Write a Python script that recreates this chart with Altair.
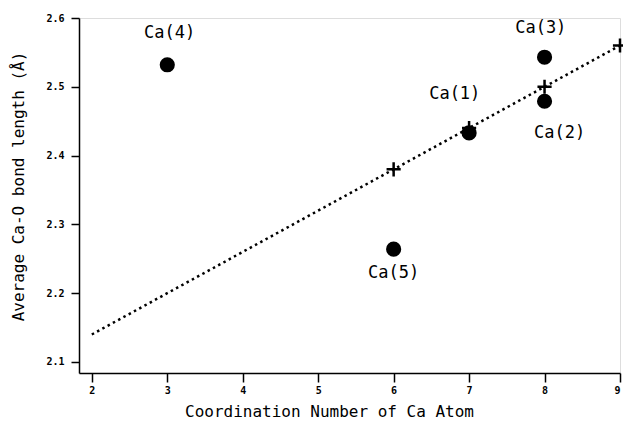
import altair as alt
import pandas as pd

# Observed atoms
atom_names = ["Ca(1)", "Ca(2)", "Ca(3)", "Ca(4)", "Ca(5)"]
atom_cn = [7, 8, 8, 3, 6]
atom_bond = [2.433, 2.479, 2.543, 2.532, 2.264]

# Label anchor positions (data space)
label_cn = [6.81, 8.20, 7.95, 3.03, 6.0]
label_bond = [2.4895, 2.433, 2.5855, 2.578, 2.229]

# Expected values (plus markers)
exp_cn = [6, 7, 8, 9]
exp_bond = [2.38, 2.44, 2.50, 2.56]

# Fitted dotted line
fit_cn = [2, 9]
fit_bond = [2.14, 2.56]

x_ticks = [2, 3, 4, 5, 6, 7, 8, 9]
y_ticks = [2.1, 2.2, 2.3, 2.4, 2.5, 2.6]

atoms = pd.DataFrame({"cn": atom_cn, "bond": atom_bond})
labels = pd.DataFrame({"name": atom_names, "cn": label_cn, "bond": label_bond})
expected = pd.DataFrame({"cn": exp_cn, "bond": exp_bond})
fit = pd.DataFrame({"cn": fit_cn, "bond": fit_bond})

FONT = "DejaVu Sans Mono"

xscale = alt.Scale(domain=[1.83, 9], nice=False, zero=False)
yscale = alt.Scale(domain=[2.084, 2.6], nice=False, zero=False)

xaxis = alt.Axis(
    title="Coordination Number of Ca Atom",
    values=x_ticks, format="d", grid=False,
    domainColor="black", domainWidth=1.5, tickColor="black", tickWidth=1.5, tickSize=9,
    labelFont=FONT, labelFontSize=10, labelFontWeight="bold", labelColor="black", labelPadding=3,
    titleFont=FONT, titleFontSize=16, titleFontWeight="normal", titleColor="black",
    titleX=250, titleY=38, titleBaseline="middle", titleAlign="center",
)
yaxis = alt.Axis(
    title="Average Ca-O bond length (Å)",
    values=y_ticks, format=".1f", grid=False,
    domainColor="black", domainWidth=1.5, tickColor="black", tickWidth=1.5, tickSize=8,
    labelFont=FONT, labelFontSize=10, labelFontWeight="bold", labelColor="black", labelPadding=7,
    titleFont=FONT, titleFontSize=16, titleFontWeight="normal", titleColor="black",
    titleX=-61, titleY=168, titleBaseline="middle", titleAlign="center", titleAngle=-90,
)

line = alt.Chart(fit).mark_line(
    color="black", strokeWidth=2.5, strokeDash=[2.5, 3.5], strokeCap="butt"
).encode(
    x=alt.X("cn:Q", scale=xscale, axis=xaxis),
    y=alt.Y("bond:Q", scale=yscale, axis=yaxis),
)

circles = alt.Chart(atoms).mark_circle(size=230, color="black", opacity=1).encode(
    x=alt.X("cn:Q", scale=xscale),
    y=alt.Y("bond:Q", scale=yscale),
)

pluses = alt.Chart(expected).mark_point(
    shape="M-1,0L1,0M0,-1L0,1", size=200, filled=False, color="black", strokeWidth=2.5, opacity=1
).encode(
    x=alt.X("cn:Q", scale=xscale),
    y=alt.Y("bond:Q", scale=yscale),
)

texts = alt.Chart(labels).mark_text(
    font=FONT, fontSize=17, color="black", baseline="middle", align="center"
).encode(
    x=alt.X("cn:Q", scale=xscale),
    y=alt.Y("bond:Q", scale=yscale),
    text="name:N",
)

chart = alt.layer(line, circles, pluses, texts).properties(
    width=541, height=355,
    autosize=alt.AutoSizeParams(type="none"),
    padding={"left": 71, "top": 10, "right": 3, "bottom": 48},
).configure_view(stroke=None).configure(background="white")

chart.save("out.html", embed_options={"renderer": "svg", "actions": False})
